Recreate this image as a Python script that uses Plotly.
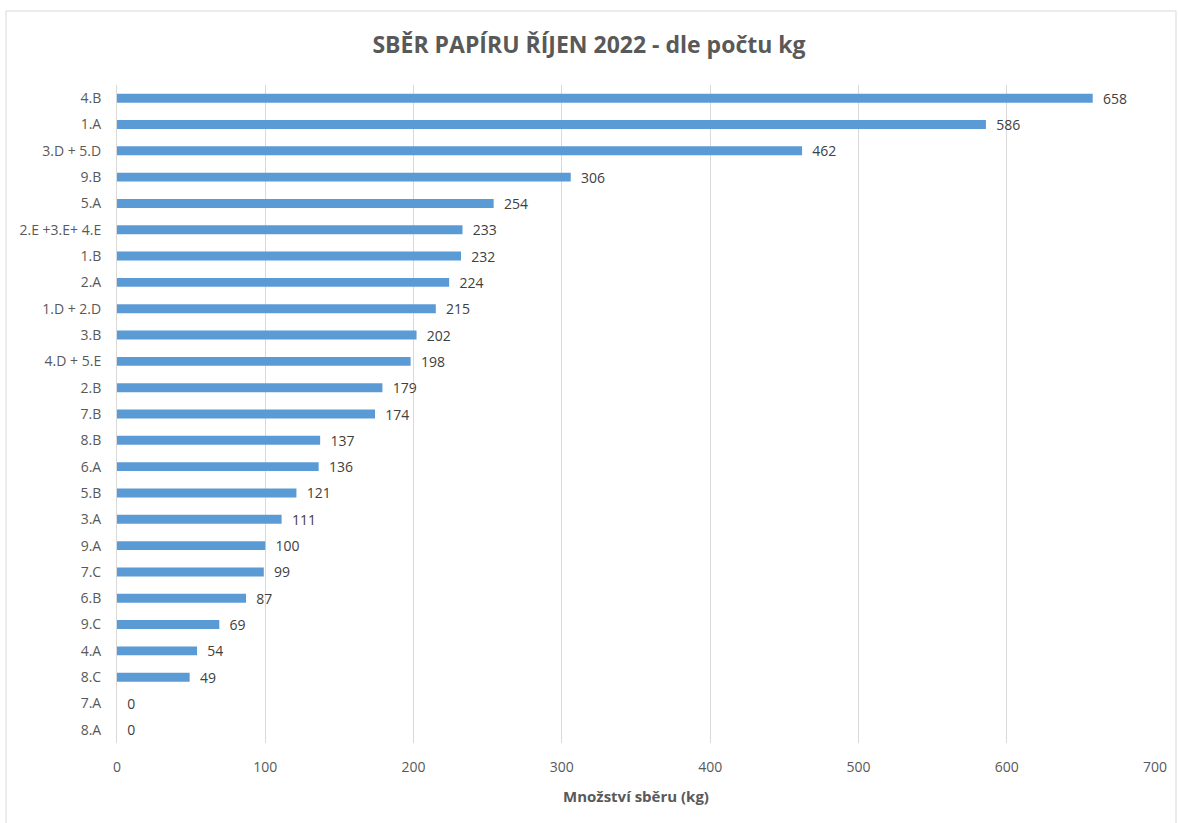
import plotly.graph_objects as go

categories = ["4.B", "1.A", "3.D + 5.D", "9.B", "5.A", "2.E +3.E+ 4.E", "1.B", "2.A",
              "1.D + 2.D", "3.B", "4.D + 5.E", "2.B", "7.B", "8.B", "6.A", "5.B",
              "3.A", "9.A", "7.C", "6.B", "9.C", "4.A", "8.C", "7.A", "8.A"]
values = [658, 586, 462, 306, 254, 233, 232, 224, 215, 202, 198, 179, 174, 137, 136,
          121, 111, 100, 99, 87, 69, 54, 49, 0, 0]
x_ticks = [0, 100, 200, 300, 400, 500, 600, 700]

FONT = "Open Sans"
TXT = "#595959"

fig = go.Figure(go.Bar(
    y=categories, x=values, orientation="h",
    marker=dict(color="#5B9BD5", line=dict(width=0)),
    width=0.34,
    text=[str(v) for v in values], textposition="outside",
    texttemplate="  %{text}",
    outsidetextfont=dict(family=FONT, size=14, color="#404040"),
    textfont=dict(family=FONT, size=14, color="#404040"),
    constraintext="none",
    cliponaxis=False,
))

fig.update_layout(
    width=1178, height=823,
    margin=dict(l=117, r=23, t=85, b=80),
    paper_bgcolor="white", plot_bgcolor="white",
    title=dict(text="<b>SBĚR PAPÍRU ŘÍJEN 2022 - dle počtu kg</b>",
               x=0.5, xref="container", xanchor="center", y=1 - 45 / 823, yanchor="middle",
               font=dict(family=FONT, size=23, color=TXT)),
    xaxis=dict(range=[0, 700], tickvals=x_ticks, showgrid=True, gridcolor="#D9D9D9",
               gridwidth=1, zeroline=False, showline=False,
               tickfont=dict(family=FONT, size=14, color=TXT), ticks="", ticklen=0,
               ticklabelstandoff=14,
               title=dict(text="<b>Množství sběru (kg)</b>", standoff=16,
                          font=dict(family=FONT, size=15, color=TXT))),
    yaxis=dict(categoryorder="array", categoryarray=categories, autorange="reversed",
               showgrid=False, showline=True, linecolor="#D9D9D9", linewidth=1,
               tickfont=dict(family=FONT, size=14, color=TXT), ticks="", ticklabelstandoff=12),
    bargap=0.66,
    showlegend=False,
    shapes=[dict(type="rect", xref="paper", yref="paper",
                 x0=-111 / 1038, x1=1059 / 1038, y0=-0.2, y1=(743 - 11) / 658,
                 line=dict(color="#D9D9D9", width=1), fillcolor="rgba(0,0,0,0)", layer="below")],
)

fig.write_html("out.html", config={"displayModeBar": False},
               post_script="document.body.style.margin='0';document.body.style.overflow='hidden';")
